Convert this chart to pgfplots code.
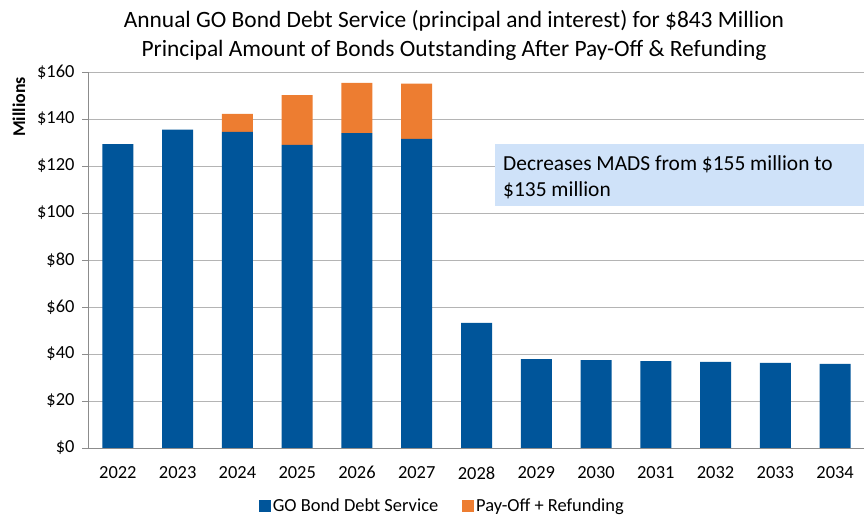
\documentclass[border=0pt]{standalone}
\usepackage{fontspec}
\setmainfont{Carlito}
\usepackage{pgfplots}
\pgfplotsset{compat=1.18}
\definecolor{goblue}{HTML}{00559A}
\definecolor{payorange}{HTML}{ED7D31}
\definecolor{boxblue}{HTML}{CFE2F9}
\definecolor{gridgray}{HTML}{B4B4B4}
\definecolor{axgray}{HTML}{8C8C8C}
\begin{document}
\begin{tikzpicture}
\useasboundingbox (0,0) rectangle (864bp,517bp);
\begin{axis}[
  at={(88bp,69bp)}, anchor=south west,
  scale only axis, width=777bp, height=376bp,
  ybar stacked, bar width=31bp,
  xmin=-0.5, xmax=12.5, ymin=0, ymax=160,
  axis x line*=bottom, axis y line*=left,
  axis line style={axgray, line width=0.8pt},
  xtick={0,...,12},
  xticklabels={2022,2023,2024,2025,2026,2027,2028,2029,2030,2031,2032,2033,2034},
  extra x ticks={-0.5,0.5,...,12.5},
  extra x tick labels={},
  extra x tick style={major tick length=6bp, tick style={axgray, line width=0.8pt}, tick align=outside, grid=none},
  major x tick style={draw=none},
  ytick={0,20,...,160},
  yticklabels={\$0,\$20,\$40,\$60,\$80,\$100,\$120,\$140,\$160},
  ytick style={axgray, line width=0.8pt},
  tick align=outside, major tick length=6bp,
  ymajorgrids, grid style={gridgray, line width=0.9pt},
  ticklabel style={font=\fontsize{18.5}{21}\selectfont},
  xticklabel style={yshift=-9bp},
  yticklabel style={xshift=-4bp},
  legend style={draw=none, at={(0.456,-58bp)}, anchor=center, font=\fontsize{18.5}{21}\selectfont, legend columns=2,
    /tikz/every even column/.append style={column sep=22bp}},
  legend image code/.code={\fill[#1] (0bp,-6bp) rectangle (12bp,6bp);},
]
\addplot[fill=goblue, draw=none] coordinates {
(0,129.3) (1,135.5) (2,134.5) (3,129.0) (4,134.0) (5,131.5) (6,53.2)
(7,37.8) (8,37.4) (9,37.0) (10,36.6) (11,36.2) (12,35.8)};
\addlegendentry{GO Bond Debt Service}
\addplot[fill=payorange, draw=none] coordinates {
(0,0) (1,0) (2,7.7) (3,21.2) (4,21.4) (5,23.6) (6,0)
(7,0) (8,0) (9,0) (10,0) (11,0) (12,0)};
\addlegendentry{Pay-Off + Refunding}
\end{axis}
\node[anchor=base, font=\fontsize{23.5}{26}\selectfont] at (454bp,489bp) {Annual GO Bond Debt Service (principal and interest) for \$843 Million};
\node[anchor=base, font=\fontsize{23.5}{26}\selectfont] at (454bp,460bp) {Principal Amount of Bonds Outstanding After Pay-Off \& Refunding};
\node[rotate=90, font=\fontsize{18}{20}\selectfont\bfseries] at (19bp,410bp) {Millions};
\fill[boxblue] (495bp,311bp) rectangle (870bp,373bp);
\node[anchor=base west, inner sep=0pt, font=\fontsize{21.5}{24}\selectfont] at (503bp,346bp) {Decreases MADS from \$155 million to};
\node[anchor=base west, inner sep=0pt, font=\fontsize{21.5}{24}\selectfont] at (503bp,320bp) {\$135 million};
\end{tikzpicture}
\end{document}
